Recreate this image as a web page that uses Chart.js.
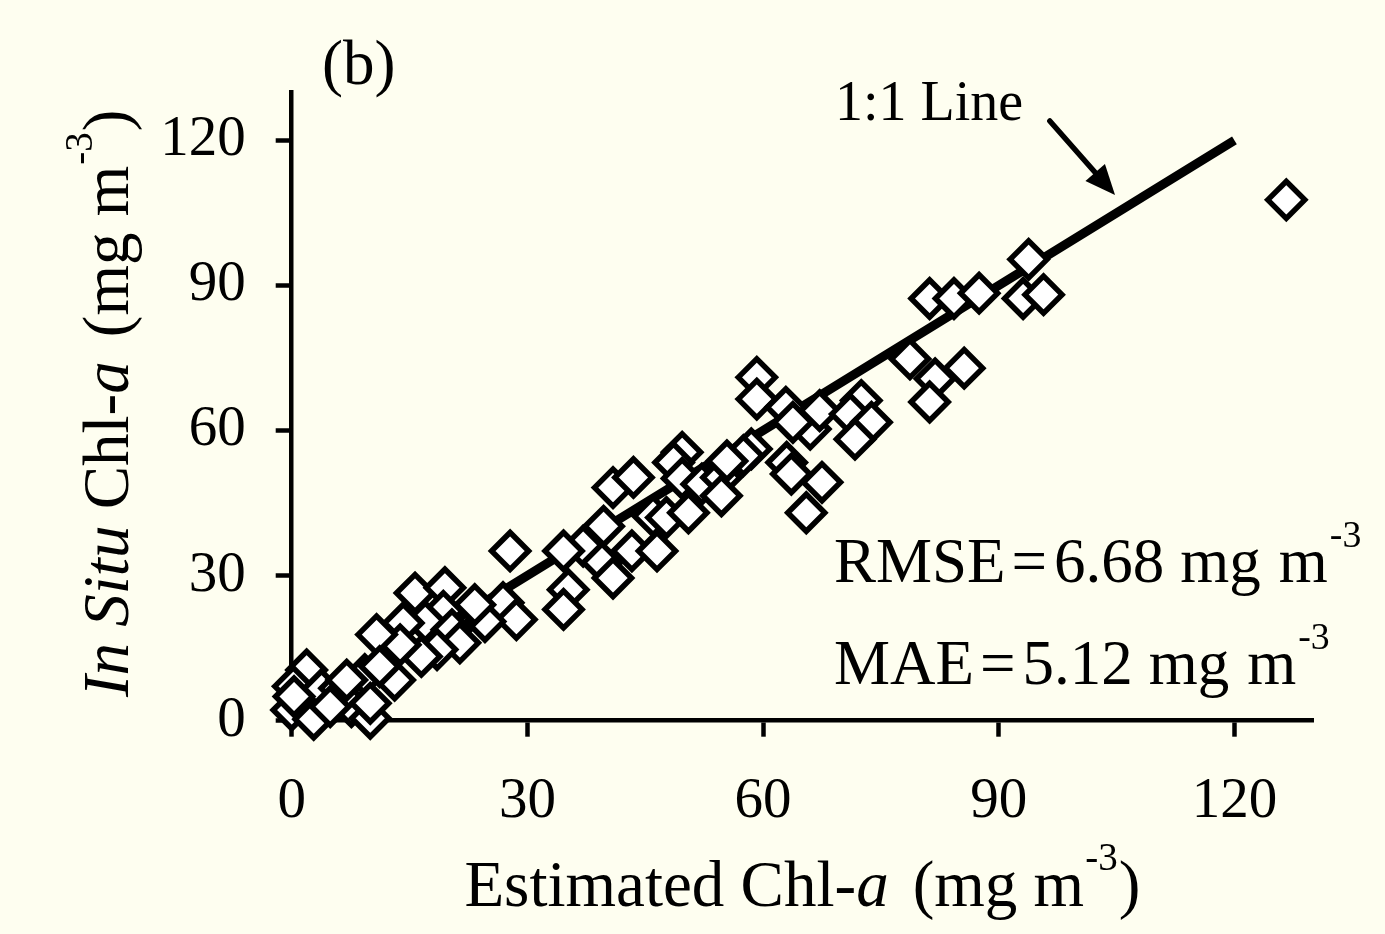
<!DOCTYPE html>
<html>
<head>
<meta charset="utf-8">
<script src="https://cdn.jsdelivr.net/npm/chart.js@4/dist/chart.umd.min.js"></script>
<style>
  html, body { margin: 0; padding: 0; background: #FEFEF0; }
  canvas { display: block; }
</style>
</head>
<body>
<canvas id="c" width="1385" height="934" style="width:1385px;height:934px"></canvas>
<script>
// ---- data ----
const estimatedChl = [126.6, 93.8, 81.2, 84.3, 87.5, 93.1, 95.7, 78.7, 81.9, 85.6, 81.2,
  59.2, 59.2, 62.9, 66.0, 67.2, 63.8, 72.5, 71.1, 73.8, 71.7, 58.5, 57.5, 63.0, 63.6, 67.5, 65.5,
  49.7, 48.6, 49.7, 52.2, 54.7, 55.4, 54.7, 40.9, 43.5, 39.7, 37.1, 34.6, 27.8, 46.0, 47.7, 50.5,
  43.3, 46.5, 39.5, 40.9, 35.2, 34.6, 26.9, 28.6, 24.6, 15.7, 19.5, 19.3, 17.0, 14.2, 20.4, 21.4,
  18.5, 16.5, 13.8, 10.8, 23.3, 9.3, 13.1, 11.2, 1.9, 0.2, 3.8, 6.1, 7.6, 0.0, 2.8, 10.0, 4.9,
  0.3, 7.0, 10.0];
const inSituChl = [107.7, 95.4, 87.3, 87.3, 88.4, 87.3, 88.1, 74.8, 70.7, 72.9, 65.9,
  71.0, 66.5, 64.8, 60.3, 64.1, 61.7, 66.2, 63.4, 61.7, 58.2, 56.2, 54.8, 53.4, 51.0, 49.3, 43.0,
  55.5, 53.4, 50.1, 48.9, 50.3, 53.7, 46.5, 48.2, 50.3, 40.2, 36.1, 35.1, 35.1, 42.3, 42.0, 43.0,
  35.1, 35.1, 32.7, 29.5, 27.1, 23.0, 24.4, 20.9, 20.5, 26.4, 27.5, 22.6, 20.5, 20.2, 18.8, 16.1,
  14.7, 13.3, 15.7, 17.8, 24.0, 9.5, 8.4, 11.2, 10.5, 7.1, 6.4, 6.7, 2.9, 2.2, 0.3, 0.5, 2.9,
  5.0, 8.4, 3.6];
const oneToOneX = [0, 120];
const oneToOneY = [0, 120];
const xTickValues = [0, 30, 60, 90, 120];
const yTickValues = [0, 30, 60, 90, 120];
const axisMin = 0, axisMax = 130;

// ---- styling ----
const BG = '#FEFEF0';
const FAM = "'Liberation Serif','Times New Roman',serif";

function drawRich(ctx, segs, x, y, size, align, rotate) {
  const f = (s, it) => (it ? 'italic ' : '') + s + 'px ' + FAM;
  let w = 0;
  const parts = segs.map(sg => {
    const s = sg.sup ? size * 0.6 : size;
    ctx.font = f(s, sg.it);
    const m = ctx.measureText(sg.t).width;
    const p = { sg, s, x: w + (sg.gap || 0) };
    w = p.x + m;
    return p;
  });
  ctx.save();
  ctx.translate(x, y);
  if (rotate) ctx.rotate(rotate);
  const x0 = align === 'center' ? -w / 2 : 0;
  ctx.textBaseline = 'alphabetic';
  ctx.textAlign = 'left';
  ctx.fillStyle = '#000';
  parts.forEach(p => {
    ctx.font = f(p.s, p.sg.it);
    ctx.fillText(p.sg.t, x0 + p.x, p.sg.sup ? -size * 0.55 : 0);
  });
  ctx.restore();
}

const decor = {
  id: 'decor',
  beforeDraw(chart) {
    const ctx = chart.ctx;
    ctx.save();
    ctx.fillStyle = BG;
    ctx.fillRect(0, 0, chart.width, chart.height);
    ctx.restore();
  },
  afterDraw(chart) {
    const ctx = chart.ctx;
    const xs = chart.scales.x, ys = chart.scales.y;
    // panel label
    drawRich(ctx, [{ t: '(b)' }], 322, 84, 63, 'left');
    // 1:1 line label
    drawRich(ctx, [{ t: '1:1 Line' }], 835, 120, 56, 'left');
    // arrow
    const x1 = xs.getPixelForValue(96.5), y1 = ys.getPixelForValue(124.0);
    const x2 = xs.getPixelForValue(104.8), y2 = ys.getPixelForValue(108.7);
    const ang = Math.atan2(y2 - y1, x2 - x1);
    const hl = 30, hw = 13;
    const bx = x2 - hl * Math.cos(ang), by = y2 - hl * Math.sin(ang);
    ctx.save();
    ctx.strokeStyle = '#000'; ctx.fillStyle = '#000';
    ctx.lineWidth = 5.5; ctx.lineCap = 'round';
    ctx.beginPath(); ctx.moveTo(x1, y1); ctx.lineTo(bx, by); ctx.stroke();
    ctx.beginPath();
    ctx.moveTo(x2, y2);
    ctx.lineTo(bx + hw * Math.sin(ang), by - hw * Math.cos(ang));
    ctx.lineTo(bx - hw * Math.sin(ang), by + hw * Math.cos(ang));
    ctx.closePath(); ctx.fill();
    ctx.restore();
    // statistics
    drawRich(ctx, [{ t: 'RMSE' }, { t: '=', gap: 6 }, { t: '6.68', gap: 7 }, { t: 'mg', gap: 16 },
      { t: 'm', gap: 18 }, { t: '-3', sup: true, gap: 2 }], 834, 582, 63, 'left');
    drawRich(ctx, [{ t: 'MAE' }, { t: '=', gap: 6 }, { t: '5.12', gap: 7 }, { t: 'mg', gap: 16 },
      { t: 'm', gap: 18 }, { t: '-3', sup: true, gap: 2 }], 834, 684, 63, 'left');
    // axis titles
    const cx = (chart.chartArea.left + chart.chartArea.right) / 2;
    drawRich(ctx, [{ t: 'Estimated Chl-' }, { t: 'a', it: true }, { t: '(mg m', gap: 24 },
      { t: '-3', sup: true, gap: 1 }, { t: ')', gap: 1 }], cx, 906, 65, 'center');
    const cy = (chart.chartArea.top + chart.chartArea.bottom) / 2;
    drawRich(ctx, [{ t: 'In Situ', it: true }, { t: ' Chl-' }, { t: 'a', it: true }, { t: '(mg m', gap: 24 },
      { t: '-3', sup: true, gap: 1 }, { t: ')', gap: 1 }], 128, cy - 3, 65, 'center', -Math.PI / 2);
  }
};

const tickFont = { family: FAM, size: 57 };
const axisCommon = (vals) => ({
  type: 'linear', min: axisMin, max: axisMax,
  afterBuildTicks: s => { s.ticks = vals.map(v => ({ value: v })); },
  ticks: { font: tickFont, color: '#000', autoSkip: false, maxRotation: 0, callback: v => String(v) },
  grid: { display: true, drawOnChartArea: false, drawTicks: true, tickLength: 16, tickWidth: 4.5, tickColor: '#000' },
  border: { display: true, width: 4.5, color: '#000' }
});

const xAxis = axisCommon(xTickValues);
xAxis.ticks.padding = 31;
xAxis.afterFit = s => { s.height = 934 - 720.7; };
const yAxis = axisCommon(yTickValues);
yAxis.ticks.padding = 30;
yAxis.afterFit = s => { s.width = 291.7; };

new Chart(document.getElementById('c'), {
  data: {
    datasets: [
      {
        type: 'scatter',
        label: 'Observations',
        data: estimatedChl.map((x, i) => ({ x, y: inSituChl[i] })),
        pointStyle: 'rectRot',
        pointRadius: 18.5,
        pointHoverRadius: 18.5,
        borderWidth: 5.5,
        pointBorderWidth: 5.5,
        borderColor: '#000',
        backgroundColor: '#FFFFFF',
        clip: false,
        order: 0
      },
      {
        type: 'line',
        label: '1:1 Line',
        data: oneToOneX.map((x, i) => ({ x, y: oneToOneY[i] })),
        borderColor: '#000',
        borderWidth: 9,
        pointRadius: 0,
        fill: false,
        clip: false,
        order: 1
      }
    ]
  },
  options: {
    responsive: false,
    devicePixelRatio: 1,
    animation: false,
    layout: { padding: { left: 0, right: 72, top: 92, bottom: 0 } },
    plugins: { legend: { display: false }, tooltip: { enabled: false }, title: { display: false } },
    scales: { x: xAxis, y: yAxis }
  },
  plugins: [decor]
});
</script>
</body>
</html>
